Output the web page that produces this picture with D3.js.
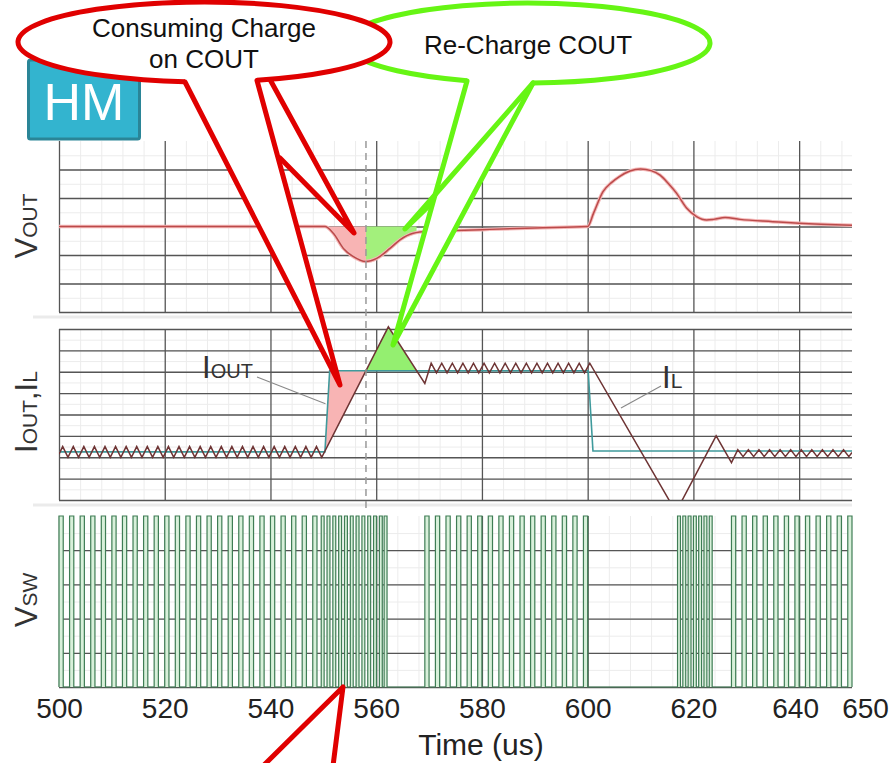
<!DOCTYPE html>
<html>
<head>
<meta charset="utf-8">
<script src="https://cdn.jsdelivr.net/npm/d3@7"></script>
<style>
  html, body { margin: 0; padding: 0; background: #fff; }
  svg { display: block; font-family: "Liberation Sans", Arial, sans-serif; }
</style>
</head>
<body>
<svg id="chart" width="893" height="763"></svg>
<script>
// ---- time axis ----
const timeTicks = [500, 520, 540, 560, 580, 600, 620, 640, 650];
const majorTimes = [500, 520, 540, 560, 580, 600, 620, 640];

// ---- output voltage deviation, in grid divisions: [time us, value] ----
const voutPoints = [
  [500, 0], [550.3, 0], [551.9, -0.24], [553.8, -0.77], [555.7, -1.06], [558, -1.23],
  [560.1, -1.12], [562.6, -0.77], [564.5, -0.47], [567, -0.24], [570, -0.17], [575, -0.14],
  [580, -0.11], [590, -0.05], [600, 0], [601.1, 0.46], [602.9, 1.22], [604.5, 1.54],
  [606, 1.75], [608, 1.95], [610, 2.02], [612, 1.96], [613.7, 1.8], [615.3, 1.5],
  [616.8, 1.17], [618.7, 0.65], [620.6, 0.35], [622.5, 0.23], [623.8, 0.25], [626, 0.32],
  [628.8, 0.25], [635, 0.17], [640, 0.11], [650, 0.04]
];

// ---- load current step: [time us, value in divisions] ----
const ioutPoints = [[500, 2.25], [550.3, 2.25], [551.2, 6.05], [600.1, 6.05], [601.0, 2.29], [650, 2.29]];

// ---- inductor current: [time us, value in divisions] ----
const ilPoints = [
  [500, 2.15],
  [500.7, 2.5], [501.7, 2.0], [502.7, 2.5], [503.7, 2.0], [504.7, 2.5], [505.7, 2.0], [506.7, 2.5], [507.7, 2.0], [508.7, 2.5], [509.7, 2.0],
  [510.7, 2.5], [511.7, 2.0], [512.7, 2.5], [513.7, 2.0], [514.7, 2.5], [515.7, 2.0], [516.7, 2.5], [517.7, 2.0], [518.7, 2.5], [519.7, 2.0],
  [520.7, 2.5], [521.7, 2.0], [522.7, 2.5], [523.7, 2.0], [524.7, 2.5], [525.7, 2.0], [526.7, 2.5], [527.7, 2.0], [528.7, 2.5], [529.7, 2.0],
  [530.7, 2.5], [531.7, 2.0], [532.7, 2.5], [533.7, 2.0], [534.7, 2.5], [535.7, 2.0], [536.7, 2.5], [537.7, 2.0], [538.7, 2.5], [539.7, 2.0],
  [540.7, 2.5], [541.7, 2.0], [542.7, 2.5], [543.7, 2.0], [544.7, 2.5], [545.7, 2.0], [546.7, 2.5], [547.7, 2.0], [548.7, 2.5], [549.7, 2.0],
  [562.3, 8.1], [569.2, 5.45],
  [570.4, 6.4], [571.4, 5.95], [572.4, 6.4], [573.4, 5.95], [574.4, 6.4], [575.4, 5.95], [576.4, 6.4], [577.4, 5.95], [578.4, 6.4], [579.4, 5.95],
  [580.4, 6.4], [581.4, 5.95], [582.4, 6.4], [583.4, 5.95], [584.4, 6.4], [585.4, 5.95], [586.4, 6.4], [587.4, 5.95], [588.4, 6.4], [589.4, 5.95],
  [590.4, 6.4], [591.4, 5.95], [592.4, 6.4], [593.4, 5.95], [594.4, 6.4], [595.4, 5.95], [596.4, 6.4], [597.4, 5.95], [598.4, 6.4], [599.4, 5.95],
  [600.4, 6.4],
  [616.7, -0.56], [624.3, 3.0], [627.2, 1.75],
  [628.4, 2.35], [629.4, 2.03], [630.4, 2.35], [631.4, 2.03], [632.4, 2.35], [633.4, 2.03], [634.4, 2.35], [635.4, 2.03],
  [636.4, 2.35], [637.4, 2.03], [638.4, 2.35], [639.4, 2.03], [640.4, 2.35], [641.4, 2.03], [642.4, 2.35], [643.4, 2.03],
  [644.4, 2.35], [645.4, 2.03], [646.4, 2.35], [647.4, 2.03], [648.4, 2.35], [649.4, 2.03], [650, 2.22]
];

// ---- switch node: rising edges (us) and on-time per burst ----
const vswRiseSteady1 = [500, 502, 504, 506, 508, 510, 512, 514, 516, 518, 520, 522, 524, 526, 528, 530, 532, 534, 536, 538, 540, 542, 544, 546, 548];
const vswRiseStep = [549.6, 550.7, 551.8, 552.9, 554.0, 555.1, 556.2, 557.3, 558.4, 559.5, 560.6, 561.5];
const vswRiseSteady2 = [569.2, 571.2, 573.2, 575.2, 577.2, 579.2, 581.2, 583.2, 585.2, 587.2, 589.2, 591.2, 593.2, 595.2, 597.2, 599.2];
const vswRiseRelease = [617.0, 618.0, 619.0, 620.0, 621.0, 622.0, 623.0];
const vswRiseSteady3 = [627.2, 629.2, 631.2, 633.2, 635.2, 637.2, 639.2, 641.2, 643.2, 645.2, 647.2, 649.2];
const vswOnTime = [0.8, 0.55, 0.8, 0.55, 0.8];

// ---- scales ----
const svg = d3.select("#chart");
const x = d3.scaleLinear().domain([500, 650]).range([59, 852]);
const yV = d3.scaleLinear().domain([-3, 3]).range([312, 141]);
const yI = d3.scaleLinear().domain([0, 8]).range([500, 329]);
const yS = d3.scaleLinear().domain([0, 5]).range([687, 516]);
const W = x(650) - x(500);

const MAJOR = "#555", MINOR = "#ececec";

// light separators between the panels
[317, 505].forEach(yy => svg.append("rect").attr("x", 33).attr("y", yy - 1.5).attr("width", x(650) - 33).attr("height", 3).attr("fill", "#ebebeb"));

function hGrid(scale, levels, color, width) {
  svg.append("g").attr("transform", `translate(${x(500)},0)`)
    .call(d3.axisLeft(scale).tickValues(levels).tickSize(-W).tickFormat(""))
    .call(g => g.select(".domain").remove())
    .selectAll("line").attr("stroke", color).attr("stroke-width", width);
}
function vGrid(times, top, bottom, color, width) {
  svg.append("g").attr("transform", `translate(0,${bottom})`)
    .call(d3.axisBottom(x).tickValues(times).tickSize(-(bottom - top)).tickFormat(""))
    .call(g => g.select(".domain").remove())
    .selectAll("line").attr("stroke", color).attr("stroke-width", width);
}
const minorTimes = d3.range(504, 650, 4).filter(t => (t - 500) % 20 !== 0);

// panel 1 grid
hGrid(yV, d3.range(-3, 3, 0.5), MINOR, 1);
vGrid(minorTimes, 141, 312, MINOR, 1);
hGrid(yV, [-3, -2, -1, 0, 1, 2], MAJOR, 1.3);
vGrid(majorTimes, 141, 312, MAJOR, 1.3);
// panel 2 grid
hGrid(yI, d3.range(0, 8, 0.5), MINOR, 1);
vGrid(minorTimes, 329, 500, MINOR, 1);
hGrid(yI, d3.range(0, 9, 1), MAJOR, 1.3);
vGrid(majorTimes, 329, 500, MAJOR, 1.3);
// panel 3 grid
hGrid(yS, d3.range(0.5, 5, 0.5), MINOR, 1);
vGrid(minorTimes, 516, 687, MINOR, 1);
hGrid(yS, [0, 1, 2, 3, 4], MAJOR, 1.3);
vGrid(majorTimes, 516, 687, MAJOR, 1.3);

// ---- helpers ----
function valueAt(pts, t) {
  for (let i = 1; i < pts.length; i++) {
    if (t <= pts[i][0]) {
      const [t0, v0] = pts[i - 1], [t1, v1] = pts[i];
      return v0 + (v1 - v0) * (t - t0) / (t1 - t0);
    }
  }
  return pts[pts.length - 1][1];
}
function crossing(pts, level, tFrom) {
  for (let i = 1; i < pts.length; i++) {
    const [t0, v0] = pts[i - 1], [t1, v1] = pts[i];
    if (t1 <= tFrom) continue;
    if ((v0 - level) * (v1 - level) <= 0 && v0 !== v1) return t0 + (level - v0) * (t1 - t0) / (v1 - v0);
  }
  return null;
}

// instants where the inductor current meets the load current
const ioutHigh = ioutPoints[2][1];
const tMeet = crossing(ilPoints, ioutHigh, 552);
const tRecharged = crossing(ilPoints, ioutHigh, 563);

// ---- panel 1: VOUT ----
const defs = svg.append("defs");
defs.append("clipPath").attr("id", "clipDrain").append("rect")
  .attr("x", x(500)).attr("y", 141).attr("width", x(tMeet) - x(500)).attr("height", 171);
defs.append("clipPath").attr("id", "clipRefill").append("rect")
  .attr("x", x(tMeet)).attr("y", 141).attr("width", x(tRecharged) - x(tMeet)).attr("height", 171);
defs.append("clipPath").attr("id", "clipIL").append("rect")
  .attr("x", x(500)).attr("y", 322).attr("width", W).attr("height", 178);

const voutArea = d3.area().x(d => x(d[0])).y0(yV(0)).y1(d => yV(d[1])).curve(d3.curveMonotoneX);
const voutLine = d3.line().x(d => x(d[0])).y(d => yV(d[1])).curve(d3.curveMonotoneX);
svg.append("path").datum(voutPoints).attr("d", voutArea).attr("fill", "#f8b4b4").attr("clip-path", "url(#clipDrain)");
svg.append("path").datum(voutPoints).attr("d", voutArea).attr("fill", "#a3f07c").attr("clip-path", "url(#clipRefill)");
svg.append("path").datum(voutPoints).attr("d", voutLine).attr("fill", "none").attr("stroke", "#f4b8b8").attr("stroke-width", 3.5);
svg.append("path").datum(voutPoints).attr("d", voutLine).attr("fill", "none").attr("stroke", "#bb4a4a").attr("stroke-width", 1.5);

// ---- panel 2: IOUT and IL ----
const ptLine = d3.line().x(d => x(d[0])).y(d => yI(d[1]));
const stepStart = ioutPoints[1][0];
const drainPoly = [ioutPoints[1], ioutPoints[2], [tMeet, ioutHigh], [stepStart, valueAt(ilPoints, stepStart)]];
const refillPoly = [[tMeet, ioutHigh], ...ilPoints.filter(p => p[0] > tMeet && p[0] < tRecharged), [tRecharged, ioutHigh]];
svg.append("path").attr("d", ptLine(drainPoly) + "Z").attr("fill", "#f8b4b4");
svg.append("path").attr("d", ptLine(refillPoly) + "Z").attr("fill", "#94ef70");
svg.append("path").datum(ioutPoints).attr("d", ptLine).attr("fill", "none").attr("stroke", "#3f9a9c").attr("stroke-width", 1.6);
svg.append("path").datum(ilPoints).attr("d", ptLine).attr("fill", "none").attr("stroke", "#6e3434")
  .attr("stroke-width", 1.5).attr("stroke-linejoin", "miter").attr("clip-path", "url(#clipIL)");

// moment of IL = IOUT, marked across the upper panels
svg.append("line").attr("x1", x(tMeet)).attr("x2", x(tMeet)).attr("y1", 141).attr("y2", 513)
  .attr("stroke", "#999").attr("stroke-width", 1.5).attr("stroke-dasharray", "7,5");

// ---- panel 3: VSW ----
const bursts = [vswRiseSteady1, vswRiseStep, vswRiseSteady2, vswRiseRelease, vswRiseSteady3];
const pulses = [];
bursts.forEach((rises, i) => rises.forEach(r => pulses.push([r, vswOnTime[i]])));
svg.append("g").selectAll("rect").data(pulses).join("rect")
  .attr("x", d => x(d[0])).attr("y", yS(5)).attr("width", d => x(d[0] + d[1]) - x(d[0]))
  .attr("height", yS(0) - yS(5)).attr("fill", "#d8f0da");
let dSw = `M${x(500)},${yS(0)}`;
pulses.forEach(([r, w]) => { dSw += `H${x(r)}V${yS(5)}H${x(r + w)}V${yS(0)}`; });
dSw += `H${x(650)}`;
svg.append("path").attr("d", dSw).attr("fill", "none").attr("stroke", "#3f7d55").attr("stroke-width", 1.2);

// ---- x axis ----
const xAxis = svg.append("g").attr("transform", `translate(0,${yS(0)})`)
  .call(d3.axisBottom(x).tickValues(timeTicks).tickSize(0).tickPadding(11).tickFormat(d3.format("d")));
xAxis.select(".domain").remove();
xAxis.selectAll("text").attr("font-size", 28).attr("fill", "#222").attr("font-family", "Liberation Sans, Arial, sans-serif");
// the last two labels sit close together; nudge them apart
xAxis.selectAll(".tick").filter(d => d === 640).select("text").attr("dx", -4);
xAxis.selectAll(".tick").filter(d => d === 650).select("text").attr("dx", 13);

svg.append("text").attr("x", 481).attr("y", 755).attr("text-anchor", "middle")
  .attr("font-size", 30).attr("fill", "#222").text("Time (us)");

// ---- panel titles ----
function sideLabel(cy, parts) {
  const t = svg.append("text").attr("transform", `translate(37,${cy}) rotate(-90)`)
    .attr("text-anchor", "middle").attr("fill", "#333");
  parts.forEach(([s, fs]) => t.append("tspan").attr("font-size", fs).text(s));
}
sideLabel(226, [["V", 31], ["OUT", 21]]);
sideLabel(412, [["I", 31], ["OUT", 21], [",", 31], ["I", 31], ["L", 21]]);
sideLabel(600, [["V", 31], ["SW", 21]]);

// trace names with leaders
svg.append("line").attr("x1", 257).attr("y1", 377).attr("x2", x(550.4)).attr("y2", yI(4.5))
  .attr("stroke", "#888").attr("stroke-width", 1.1);
const ioutName = svg.append("text").attr("x", 202).attr("y", 378).attr("fill", "#333");
ioutName.append("tspan").attr("font-size", 31).text("I");
ioutName.append("tspan").attr("font-size", 20).text("OUT");
svg.append("line").attr("x1", 661).attr("y1", 386).attr("x2", x(606.3)).attr("y2", yI(4.3))
  .attr("stroke", "#888").attr("stroke-width", 1.1);
const ilName = svg.append("text").attr("x", 662).attr("y", 388).attr("fill", "#333");
ilName.append("tspan").attr("font-size", 31).text("I");
ilName.append("tspan").attr("font-size", 21).text("L");

// ---- badge ----
svg.append("rect").attr("x", 28.5).attr("y", 60).attr("width", 111).attr("height", 79).attr("rx", 2)
  .attr("fill", "#33b4cf").attr("stroke", "#2a8597").attr("stroke-width", 3);
svg.append("text").attr("x", 84).attr("y", 120).attr("text-anchor", "middle")
  .attr("font-size", 52).attr("fill", "#fff").text("HM");

// ---- callouts ----
function openEllipse(cx, cy, rx, ry, gapL, gapR) {
  const p = t => [cx + rx * Math.cos(t), cy + ry * Math.sin(t)];
  const [x1, y1] = p(Math.acos((gapR - cx) / rx));
  const [x2, y2] = p(Math.acos((gapL - cx) / rx));
  return `M${x1},${y1} A${rx},${ry} 0 1 0 ${x2},${y2}`;
}
function callout(o) {
  const g = svg.append("g");
  g.append("ellipse").attr("cx", o.cx).attr("cy", o.cy).attr("rx", o.rx).attr("ry", o.ry).attr("fill", "#fff");
  o.fills.forEach(poly => g.append("path").attr("d", "M" + poly.map(p => p.join(",")).join("L") + "Z").attr("fill", "#fff"));
  g.append("path").attr("d", openEllipse(o.cx, o.cy, o.rx, o.ry, o.gap[0], o.gap[1]))
    .attr("fill", "none").attr("stroke", o.color).attr("stroke-width", 5);
  o.lines.forEach(l => g.append("path").attr("d", "M" + l.map(p => p.join(",")).join("L"))
    .attr("fill", "none").attr("stroke", o.color).attr("stroke-width", 5)
    .attr("stroke-linejoin", "round").attr("stroke-linecap", "round"));
  o.text.forEach(([s, tx, ty]) => g.append("text").attr("x", tx).attr("y", ty).attr("text-anchor", "middle")
    .attr("font-size", 26).attr("fill", "#111").text(s));
}

callout({
  cx: 528, cy: 43, rx: 182, ry: 40, gap: [467, 533], color: "#66f514",
  fills: [[[467, 81], [393, 345], [533, 83]], [[432, 203], [405, 229], [533, 83]]],
  lines: [[[467, 81], [393, 345], [533, 83]], [[533, 83], [405, 229], [432, 203]]],
  text: [["Re-Charge COUT", 528, 54]]
});
callout({
  cx: 204, cy: 42, rx: 186, ry: 40, gap: [185, 257], color: "#e00000",
  fills: [[[185, 82], [340, 385], [280, 158], [354, 233], [270, 79.5]]],
  lines: [[[185, 82], [340, 385], [257, 80.5]], [[270, 79.5], [354, 233], [280, 158]]],
  text: [["Consuming Charge", 204, 37], ["on COUT", 204, 68]]
});

// pointer rising from below the axis
svg.append("path").attr("d", "M263,766L343,687L333,766Z").attr("fill", "#fff");
svg.append("path").attr("d", "M263,766L343,687L333,766").attr("fill", "none")
  .attr("stroke", "#e00000").attr("stroke-width", 5).attr("stroke-linejoin", "round");
</script>
</body>
</html>
